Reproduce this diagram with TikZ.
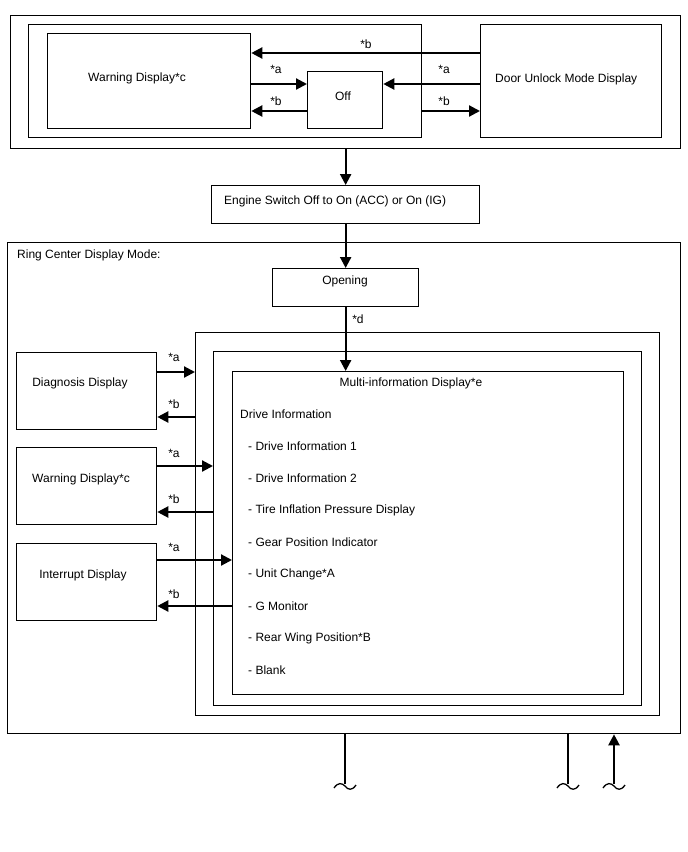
\documentclass[tikz,border=0pt]{standalone}
\usepackage{fontspec}
\setmainfont{Liberation Sans}
\usetikzlibrary{arrows.meta}
\begin{document}
\begin{tikzpicture}[x=1pt,y=-1pt,
 box/.style={draw, line width=1.3pt, inner sep=0pt, anchor=north west},
 txt/.style={inner sep=0pt, font=\fontsize{12}{14}\selectfont},
 arr/.style={line width=2.2pt, -{Triangle[length=11pt,width=11pt]}},
 ln/.style={line width=2pt},
 tl/.style={line width=1.3pt}]
\useasboundingbox (0,0) rectangle (688,852);
% boxes
\node[box, minimum width=670, minimum height=133] (topouter) at (10,15) {};
\node[box, minimum width=393, minimum height=113] (topinner) at (28,24) {};
\node[box, minimum width=203, minimum height=95] (warnA) at (47,33) {};
\node[box, minimum width=75, minimum height=57] (off) at (307,71) {};
\node[box, minimum width=181, minimum height=113] (door) at (480,24) {};
\node[box, minimum width=268, minimum height=38] (engine) at (211,185) {};
\node[box, minimum width=673, minimum height=491] (ring) at (7,242) {};
\node[box, minimum width=146, minimum height=38] (opening) at (272,268) {};
\node[box, minimum width=464, minimum height=383] (f1) at (195,332) {};
\node[box, minimum width=428, minimum height=354] (f2) at (213,351) {};
\node[box, minimum width=391, minimum height=323] (multi) at (232,371) {};
\node[box, minimum width=140, minimum height=77] (diag) at (16,352) {};
\node[box, minimum width=140, minimum height=77] (warnB) at (16,447) {};
\node[box, minimum width=140, minimum height=77] (intr) at (16,543) {};
% texts
\node[txt, anchor=west] (tWarnA) at (88,78) {Warning Display*c};
\node[txt] (tOff) at (343,96) {Off};
\node[txt, anchor=west] (tDoor) at (495,79) {Door Unlock Mode Display};
\node[txt, anchor=west] (tEngine) at (224,201) {Engine Switch Off to On (ACC) or On (IG)};
\node[txt, anchor=west] (tRing) at (17,255) {Ring Center Display Mode:};
\node[txt] (tOpen) at (345,281) {Opening};
\node[txt] (tMulti) at (411,383) {Multi-information Display*e};
\node[txt, anchor=west] (tDI) at (240,414) {Drive Information};
\node[txt, anchor=west] (i1) at (248,446) {- Drive Information 1};
\node[txt, anchor=west] (i2) at (248,478) {- Drive Information 2};
\node[txt, anchor=west] (i3) at (248,510) {- Tire Inflation Pressure Display};
\node[txt, anchor=west] (i4) at (248,542) {- Gear Position Indicator};
\node[txt, anchor=west] (i5) at (248,574) {- Unit Change*A};
\node[txt, anchor=west] (i6) at (248,606) {- G Monitor};
\node[txt, anchor=west] (i7) at (248,638) {- Rear Wing Position*B};
\node[txt, anchor=west] (i8) at (248,670) {- Blank};
\node[txt] (tDiag) at (80,383) {Diagnosis Display};
\node[txt] (tWarnB) at (81,479) {Warning Display*c};
\node[txt] (tIntr) at (83,575) {Interrupt Display};
% labels
\node[txt] (l1) at (366,44) {*b};
\node[txt] (l2) at (276,69) {*a};
\node[txt] (l3) at (276,101) {*b};
\node[txt] (l4) at (444,69) {*a};
\node[txt] (l5) at (444,101) {*b};
\node[txt] (l6) at (358,319) {*d};
\node[txt] (l7) at (174,357) {*a};
\node[txt] (l8) at (174,404) {*b};
\node[txt] (l9) at (174,453) {*a};
\node[txt] (l10) at (174,499) {*b};
\node[txt] (l11) at (174,547) {*a};
\node[txt] (l12) at (174,594) {*b};
% row coordinates
\coordinate (r53) at (0,53);
\coordinate (r83) at (0,84);
\coordinate (r111) at (0,111);
\coordinate (r372) at (0,372);
\coordinate (r417) at (0,417);
\coordinate (r466) at (0,466);
\coordinate (r512) at (0,512);
\coordinate (r560) at (0,560);
\coordinate (r606) at (0,606);
% top arrows
\draw[arr] (door.west |- r53) -- (warnA.east |- r53);
\draw[arr] (warnA.east |- r83) -- (off.west |- r83);
\draw[arr] (off.west |- r111) -- (warnA.east |- r111);
\draw[arr] (door.west |- r83) -- (off.east |- r83);
\draw[arr] (topinner.east |- r111) -- (door.west |- r111);
% vertical flow
\draw[arr] (topouter.south) -- (engine.north);
\draw[arr] (engine.south) -- (opening.north);
\draw[arr] (opening.south) -- (opening.south |- multi.north);
% left arrows
\draw[arr] (diag.east |- r372) -- (f1.west |- r372);
\draw[arr] (f1.west |- r417) -- (diag.east |- r417);
\draw[arr] (warnB.east |- r466) -- (f2.west |- r466);
\draw[arr] (f2.west |- r512) -- (warnB.east |- r512);
\draw[arr] (intr.east |- r560) -- (multi.west |- r560);
\draw[arr] (multi.west |- r606) -- (intr.east |- r606);
% bottom exits
\coordinate (e1) at (345,784);
\coordinate (e2) at (568,784);
\coordinate (e3) at (614,784);
\draw[ln] (e1 |- ring.south) -- (e1);
\draw[ln] (e2 |- ring.south) -- (e2);
\draw[arr] (e3) -- (e3 |- ring.south);
\foreach \e in {e1,e2,e3}{
  \begin{scope}[shift={(\e)}]
    \draw[tl] (-11,4) .. controls (-7,-2) and (-3,-1) .. (0,2) .. controls (3,6) and (7,7) .. (11,1);
  \end{scope}
}
\end{tikzpicture}
\end{document}
